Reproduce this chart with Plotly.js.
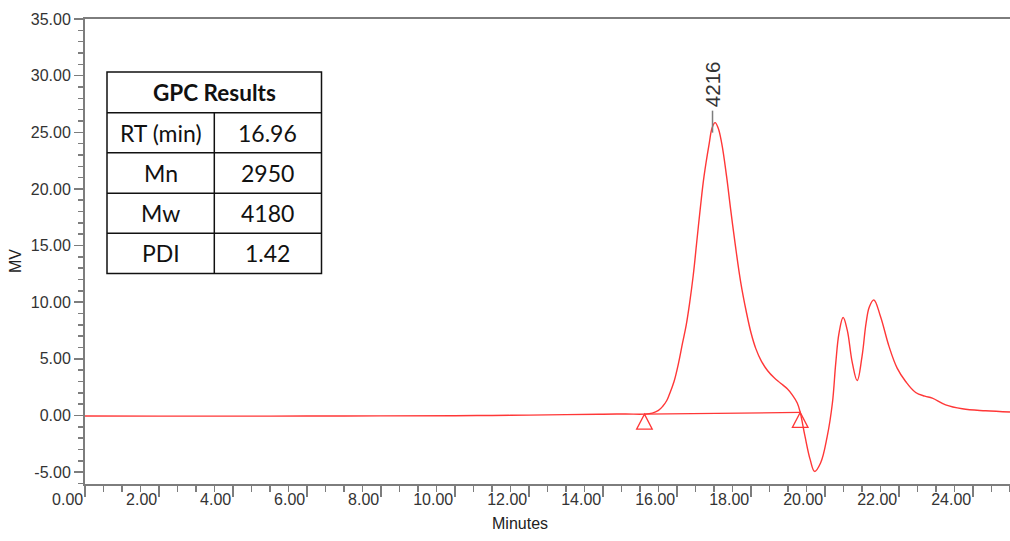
<!DOCTYPE html>
<html>
<head>
<meta charset="utf-8">
<script src="https://cdn.plot.ly/plotly-3.0.1.min.js"></script>
<style>html,body{margin:0;padding:0;background:#fff;}#chart{width:1010px;height:541px;}</style>
</head>
<body>
<div id="chart"></div>
<script>
// Chromatogram trace (minutes, mV)
const timeMin = [0, 2, 4, 6, 8, 10, 11, 12, 13, 14, 14.6, 15.12, 15.33, 15.5, 15.61, 15.72, 15.79, 15.92, 16.04, 16.15, 16.25, 16.34, 16.44, 16.53, 16.63, 16.73, 16.87, 16.95, 17.03, 17.11, 17.21, 17.34, 17.45, 17.57, 17.72, 17.87, 18.0, 18.13, 18.28, 18.45, 18.62, 18.8, 18.98, 19.12, 19.25, 19.33, 19.46, 19.6, 19.72, 19.88, 20.06, 20.2, 20.29, 20.38, 20.49, 20.6, 20.74, 20.87, 21.0, 21.11, 21.2, 21.32, 21.5, 21.73, 21.95, 22.18, 22.45, 22.7, 22.9, 23.26, 23.71, 24.34, 25.0];
const signalMV = [-0.05, -0.06, -0.06, -0.05, -0.04, -0.02, 0.0, 0.03, 0.07, 0.11, 0.13, 0.12, 0.21, 0.45, 0.79, 1.3, 1.83, 3.0, 4.6, 6.4, 8.0, 9.9, 12.4, 15.2, 18.3, 21.1, 24.0, 25.4, 25.85, 25.4, 24.0, 21.1, 18.2, 15.2, 11.8, 9.2, 7.3, 5.9, 4.8, 3.95, 3.35, 2.85, 2.35, 1.8, 1.1, 0.27, -1.85, -3.9, -4.94, -4.2, -1.85, 1.1, 4.6, 7.3, 8.65, 7.56, 4.62, 3.09, 5.2, 8.15, 9.6, 10.2, 8.74, 6.1, 4.18, 3.0, 2.03, 1.7, 1.53, 0.94, 0.59, 0.41, 0.3];

// Integration baseline (start / end markers)
const baselineTime = [15.12, 19.33];
const baselineMV = [0.12, 0.27];

// Peak label
const peakTime = [16.96];
const peakMV = [25.85];
const peakLabel = ['4216'];

// Axis ticks
const yTickValues = [-5, 0, 5, 10, 15, 20, 25, 30, 35];
const xTickValues = [0, 2, 4, 6, 8, 10, 12, 14, 16, 18, 20, 22, 24];

// Results table
const tableTitle = 'GPC Results';
const tableLabels = ['RT (min)', 'Mn', 'Mw', 'PDI'];
const tableValues = ['16.96', '2950', '4180', '1.42'];

const RED = 'rgb(255,55,55)';
const GRAY = 'rgb(125,125,125)';
const SANS = "'Liberation Sans', Arial, sans-serif";

// pixel -> paper helpers for plot area (x 85..1010, y 19..484)
const PL = 85, PR = 1010, PT = 19, PB = 484;
const px = x => (x - PL) / (PR - PL);
const py = y => (PB - y) / (PB - PT);

const traces = [
  {x: timeMin, y: signalMV, type: 'scatter', mode: 'lines',
   line: {color: RED, width: 1.4, shape: 'spline', smoothing: 1.1}, hoverinfo: 'skip'},
  {x: baselineTime, y: baselineMV, type: 'scatter', mode: 'lines',
   line: {color: RED, width: 1.3}, hoverinfo: 'skip'}
];

const shapes = [];
const annotations = [];

// triangles below baseline endpoints
baselineTime.forEach((t, i) => {
  shapes.push({type: 'path', xref: 'x', yref: 'y', xsizemode: 'pixel', ysizemode: 'pixel',
    xanchor: t, yanchor: baselineMV[i], path: 'M0,0 L7.8,-15 L-7.8,-15 Z',
    line: {color: RED, width: 1.3}, fillcolor: 'rgba(0,0,0,0)'});
});

// peak tick + label
peakTime.forEach((t, i) => {
  shapes.push({type: 'line', xref: 'x', yref: 'y', ysizemode: 'pixel', yanchor: peakMV[i],
    x0: t, x1: t, y0: -10, y1: 12, line: {color: GRAY, width: 1.5}});
  annotations.push({x: t, y: peakMV[i], xref: 'x', yref: 'y', text: peakLabel[i], showarrow: false,
    textangle: -90, xanchor: 'center', yanchor: 'bottom', yshift: 13,
    font: {family: SANS, size: 20.5, color: '#333'}});
});

// table
const tL = 107, tR = 321.5, tM = 214.3;
const rowY = [72, 112.7, 152.7, 193.3, 233.3, 273.5];
const TB = {color: '#111', width: 1.5};
shapes.push({type: 'rect', xref: 'paper', yref: 'paper', x0: px(tL), x1: px(tR), y0: py(rowY[0]), y1: py(rowY[5]), line: TB, fillcolor: 'white', layer: 'above'});
for (let r = 1; r < 5; r++) {
  shapes.push({type: 'line', xref: 'paper', yref: 'paper', x0: px(tL), x1: px(tR), y0: py(rowY[r]), y1: py(rowY[r]), line: TB});
}
shapes.push({type: 'line', xref: 'paper', yref: 'paper', x0: px(tM), x1: px(tM), y0: py(rowY[1]), y1: py(rowY[5]), line: TB});

const TF = {family: 'Lato, Calibri, Carlito, sans-serif', size: 23, color: '#111'};
annotations.push({xref: 'paper', yref: 'paper', x: px((tL + tR) / 2), y: py((rowY[0] + rowY[1]) / 2),
  text: '<b>' + tableTitle + '</b>', showarrow: false, xanchor: 'center', yanchor: 'middle',
  font: {family: TF.family, size: 22.5, color: '#111'}});
tableLabels.forEach((lab, i) => {
  const yc = py((rowY[i + 1] + rowY[i + 2]) / 2);
  annotations.push({xref: 'paper', yref: 'paper', x: px((tL + tM) / 2), y: yc, text: lab, showarrow: false,
    xanchor: 'center', yanchor: 'middle', font: TF});
  annotations.push({xref: 'paper', yref: 'paper', x: px((tM + tR) / 2), y: yc, text: tableValues[i], showarrow: false,
    xanchor: 'center', yanchor: 'middle', font: TF});
});

// axis titles
const AF = {family: SANS, size: 16, color: '#222'};
annotations.push({xref: 'paper', yref: 'paper', x: px(520), y: py(523), text: 'Minutes', showarrow: false,
  xanchor: 'center', yanchor: 'middle', font: AF});
annotations.push({xref: 'paper', yref: 'paper', x: px(15), y: py(261), text: 'MV', showarrow: false,
  textangle: -90, xanchor: 'center', yanchor: 'middle', font: AF});

const tickFont = {family: SANS, size: 16, color: '#333'};

const layout = {
  width: 1010, height: 541,
  margin: {l: PL, r: 1010 - PR, t: PT, b: 541 - PB, pad: 0},
  paper_bgcolor: 'white', plot_bgcolor: 'white',
  showlegend: false,
  xaxis: {range: [0, 25], tickmode: 'array', tickvals: xTickValues, ticktext: xTickValues.map(v => v.toFixed(2)),
    showgrid: false, zeroline: false,
    showline: true, linecolor: GRAY, linewidth: 2, mirror: true,
    ticks: 'outside', ticklen: 11, tickwidth: 1.5, tickcolor: GRAY,
    ticklabelposition: 'outside left', ticklabeloverflow: 'allow', tickfont: tickFont,
    minor: {dtick: 0.5, tick0: 0, ticks: 'outside', ticklen: 6, tickwidth: 1.5, tickcolor: GRAY, showgrid: false}},
  yaxis: {range: [-6.05, 35], tickmode: 'array', tickvals: yTickValues, ticktext: yTickValues.map(v => v.toFixed(2)),
    showgrid: false, zeroline: false,
    showline: true, linecolor: GRAY, linewidth: 2,
    ticks: 'outside', ticklen: 9, tickwidth: 1.5, tickcolor: GRAY, tickfont: tickFont,
    minor: {dtick: 1, tick0: 0, ticks: 'outside', ticklen: 5, tickwidth: 1.5, tickcolor: GRAY, showgrid: false}},
  shapes: shapes,
  annotations: annotations
};

Plotly.newPlot('chart', traces, layout, {staticPlot: true, displayModeBar: false});
</script>
</body>
</html>
